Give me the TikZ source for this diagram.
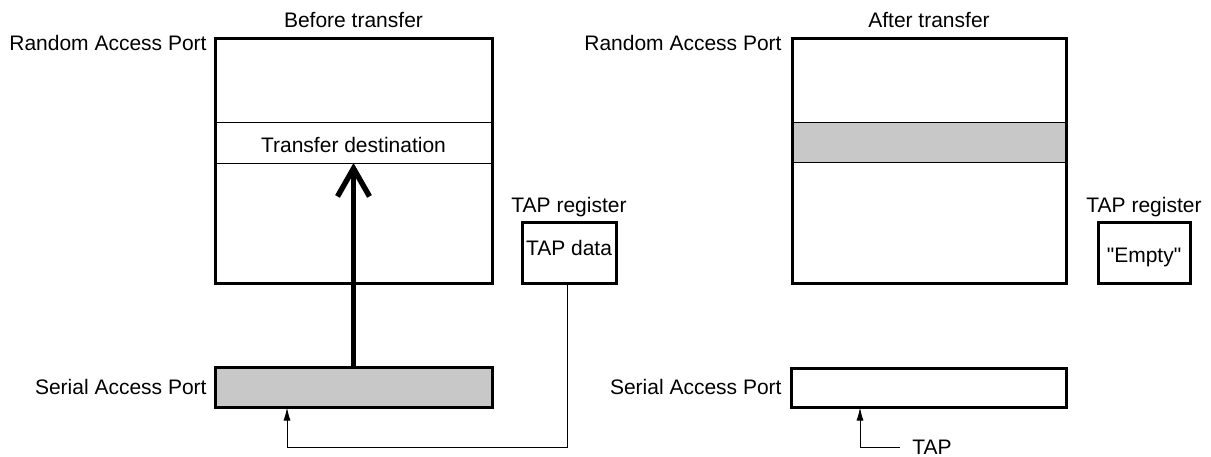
\documentclass[tikz,border=0pt]{standalone}
\usepackage{fontspec}
\setmainfont{Liberation Sans}
\newfontfamily\plainq{Liberation Sans}[Ligatures=TeXOff]
\usetikzlibrary{arrows.meta}
\begin{document}
\begin{tikzpicture}[x=0.5pt,y=-0.5pt,
  font=\fontsize{10.5}{12}\selectfont,
  bigbox/.style={draw,line width=1.5pt,inner sep=0pt,outer sep=0pt},
  band/.style={draw,line width=0.5pt,inner sep=0pt,outer sep=0pt},
  shade/.style={fill={rgb,255:red,200;green,200;blue,200}},
  lbl/.style={inner sep=0pt,anchor=base},
  rlbl/.style={inner sep=0pt,anchor=base east},
  thin/.style={line width=0.5pt},
  smallarrow/.style={-{Latex[length=6.5pt,width=3.5pt]}}
]
\useasboundingbox (0,0) rectangle (1211,456);

% ---------- Before transfer ----------
\node[band,minimum width=138.5pt,minimum height=20.5pt] (bandL) at (353.5,142.5) {};
\node[lbl] (destL) at (353.5,152) {Transfer destination};
\node[bigbox,minimum width=138.5pt,minimum height=122.5pt] (ramL) at (353.5,160.5) {};
\node[bigbox,shade,minimum width=138.5pt,minimum height=20pt] (samL) at (353.5,387) {};
\node[bigbox,minimum width=47pt,minimum height=30.5pt] (tapL) at (569,252.5) {};
\node[lbl] (tapdata) at (569,255) {TAP data};

\node[lbl] (titleL) at (353.5,27) {Before transfer};
\node[rlbl] (rapL) at (207,50) {Random Access Port};
\node[rlbl] (sapL) at (207,394) {Serial Access Port};
\node[lbl] (tapregL) at (569,212) {TAP register};

\draw[line width=2.7pt,-{Straight Barb[length=14pt,width=16pt]}] (samL.north) -- (bandL.south);

\coordinate (inL) at (287,407.5);
\draw[thin,smallarrow] (tapL.south -| 567,0) |- (287,447) -- (inL);

% ---------- After transfer ----------
\node[band,shade,minimum width=137pt,minimum height=20pt] (bandR) at (929,142) {};
\node[bigbox,minimum width=137pt,minimum height=122.5pt] (ramR) at (929,160.5) {};
\node[bigbox,minimum width=137.5pt,minimum height=19.5pt] (samR) at (928.5,387.5) {};
\node[bigbox,minimum width=46pt,minimum height=30.5pt] (tapR) at (1144,252.5) {};
\node[lbl,font=\fontsize{10.5}{12}\plainq] (empty) at (1144,262) {"Empty"};

\node[lbl] (titleR) at (929,27) {After transfer};
\node[rlbl] (rapR) at (782,50) {Random Access Port};
\node[rlbl] (sapR) at (782,394) {Serial Access Port};
\node[lbl] (tapregR) at (1144,212) {TAP register};

\node[anchor=west,inner sep=0pt] (tapin) at (912,447) {TAP};
\coordinate (inR) at (860,407.5);
\draw[thin,smallarrow] (900,447) -| (inR);
\end{tikzpicture}
\end{document}
